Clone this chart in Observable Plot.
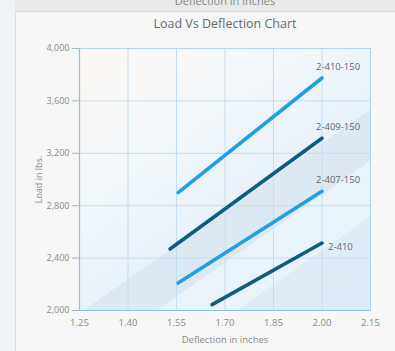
<!DOCTYPE html>
<html>
<head>
<meta charset="utf-8">
<script src="https://cdn.jsdelivr.net/npm/d3@7"></script>
<script src="https://cdn.jsdelivr.net/npm/@observablehq/plot@0.6"></script>
<style>
  html, body { margin: 0; padding: 0; }
  body { width: 395px; height: 351px; overflow: hidden; background: #eef3f7; font-family: "Open Sans", "Noto Sans", sans-serif; }
  #wrap { position: relative; width: 395px; height: 351px; }
  #panel { position: absolute; left: 15px; top: 0; width: 380px; height: 351px; background: #f6f6f6; border-left: 1px solid #dcdcdc; }
  #strip { position: absolute; left: 15px; top: 0; width: 380px; height: 11px; background: #e9e9e9; border-bottom: 1px solid #d6d6d6; overflow: hidden; }
  #strip span { position: absolute; left: 0; width: 420px; top: -7px; text-align: center; font-size: 11px; color: #888; }
  #title { position: absolute; left: 15px; width: 420px; top: 15px; text-align: center; font-size: 12.5px; color: #6a6a6a; }
  #bg { position: absolute; left: 79px; top: 48px; width: 291px; height: 262px;
        background: linear-gradient(145deg, #fdf8f3 0%, #f1f6fa 35%, #e8f2f9 57%, #dde9f2 57%, #dde9f2 68%, #e9f3fa 68%, #e9f3fa 80%, #deecf6 80%, #dcebf5 100%); }
  #chart { position: absolute; left: 0; top: 0; }
</style>
</head>
<body>
<div id="wrap">
  <div id="panel"></div>
  <div id="strip"><span>Deflection in inches</span></div>
  <div id="title">Load Vs Deflection Chart</div>
  <div id="bg"></div>
  <div id="chart"></div>
</div>
<script>
const series = ["2-410-150", "2-409-150", "2-407-150", "2-410"];
const xStart = [1.555, 1.53, 1.555, 1.66];
const yStart = [2900, 2470, 2210, 2045];
const xEnd = [2.00, 2.00, 2.00, 2.00];
const yEnd = [3775, 3315, 2910, 2515];
const xTicks = [1.25, 1.40, 1.55, 1.70, 1.85, 2.00, 2.15];
const yTicks = [2000, 2400, 2800, 3200, 3600, 4000];

const rows = series.map((s, i) => ({s, x1: xStart[i], y1: yStart[i], x2: xEnd[i], y2: yEnd[i]}));
const colorOf = {"2-410-150": "#1ea0e2", "2-409-150": "#0f5c80", "2-407-150": "#1ea0e2", "2-410": "#0f5c80"};

const chart = Plot.plot({
  width: 395,
  height: 351,
  marginLeft: 79,
  marginRight: 25,
  marginTop: 48,
  marginBottom: 41,
  style: {background: "transparent", fontFamily: "'Open Sans', 'Noto Sans', sans-serif", fontSize: "9px", color: "#8a8a8a"},
  x: {domain: [1.25, 2.15]},
  y: {domain: [2000, 4000]},
  marks: [
    Plot.gridX(xTicks, {stroke: "#c4def0", strokeOpacity: 1, strokeWidth: 1}),
    Plot.gridY(yTicks, {stroke: "#c4def0", strokeOpacity: 1, strokeWidth: 1}),
    Plot.frame({stroke: "#b3d6ea", strokeWidth: 1}),
    Plot.ruleX([1.25], {stroke: "#8cc3df", strokeWidth: 1.2}),
    Plot.ruleY([2000], {stroke: "#8cc3df", strokeWidth: 1.2}),
    Plot.axisX({ticks: xTicks, tickFormat: d3.format(".2f"), tickSize: 0, tickPadding: 9,
      fill: "#8a8a8a", label: "Deflection in inches", labelAnchor: "center", labelArrow: "none", labelOffset: 32, fontSize: 9.5}),
    Plot.axisY({ticks: yTicks, tickFormat: d3.format(","), tickSize: 7, tickPadding: 3,
      stroke: "#9fb8c6", fill: "#8a8a8a", label: "Load in lbs.", labelAnchor: "center", labelArrow: "none", labelOffset: 44}),
    Plot.link(rows, {x1: "x1", y1: "y1", x2: "x2", y2: "y2",
      stroke: d => colorOf[d.s], strokeWidth: 3.6, strokeLinecap: "round"}),
    Plot.text(rows.filter(d => d.s !== "2-410"), {x: "x2", y: "y2", text: "s",
      textAnchor: "start", dx: -6, dy: -11, fill: "#666", fontSize: 9.5}),
    Plot.text(rows.filter(d => d.s === "2-410"), {x: "x2", y: "y2", text: "s",
      textAnchor: "start", dx: 6, dy: 4, fill: "#666", fontSize: 9.5})
  ]
});
document.getElementById("chart").appendChild(chart);
</script>
</body>
</html>
